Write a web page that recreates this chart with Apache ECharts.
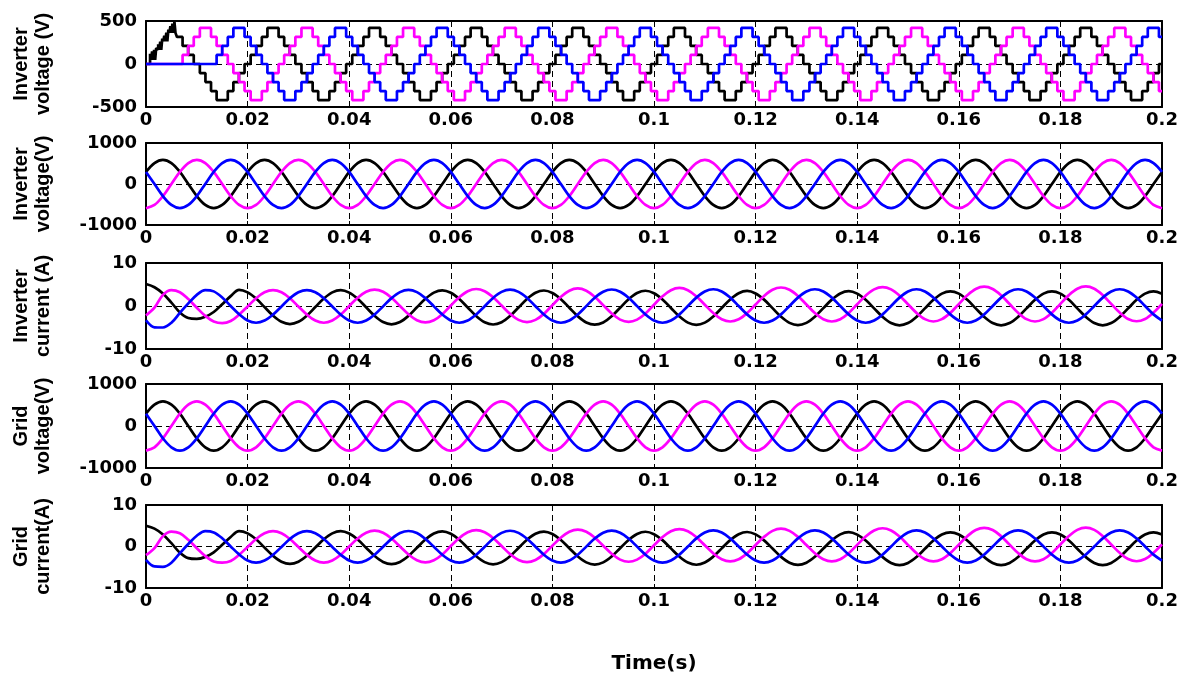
<!DOCTYPE html>
<html><head><meta charset="utf-8">
<script src="https://cdn.jsdelivr.net/npm/echarts@6/dist/echarts.min.js"></script>
<style>html,body{margin:0;padding:0;background:#fff}#c{width:1190px;height:675px}</style>
</head><body><div id="c"></div>
<script>
// ---------- tick labels / titles ----------
const xTickLabels = ['0','0.02','0.04','0.06','0.08','0.1','0.12','0.14','0.16','0.18','0.2'];
const panelTitles = ['Inverter\nvoltage (V)','Inverter\nvoltage(V)','Inverter\ncurrent (A)','Grid\nvoltage(V)','Grid\ncurrent(A)'];
const yLimits = [500, 1000, 10, 1000, 10];
const xTitle = 'Time(s)';

// ---------- sample times (s) ----------
const timeS = [
0,0.00167,0.00333,0.005,0.00667,0.00833,0.01,0.01167,0.01333,0.015,0.01667,0.01833,
0.02,0.02167,0.02333,0.025,0.02667,0.02833,0.03,0.03167,0.03333,0.035,0.03667,0.03833,
0.04,0.04167,0.04333,0.045,0.04667,0.04833,0.05,0.05167,0.05333,0.055,0.05667,0.05833,
0.06,0.06167,0.06333,0.065,0.06667,0.06833,0.07,0.07167,0.07333,0.075,0.07667,0.07833,
0.08,0.08167,0.08333,0.085,0.08667,0.08833,0.09,0.09167,0.09333,0.095,0.09667,0.09833,
0.1,0.10167,0.10333,0.105,0.10667,0.10833,0.11,0.11167,0.11333,0.115,0.11667,0.11833,
0.12,0.12167,0.12333,0.125,0.12667,0.12833,0.13,0.13167,0.13333,0.135,0.13667,0.13833,
0.14,0.14167,0.14333,0.145,0.14667,0.14833,0.15,0.15167,0.15333,0.155,0.15667,0.15833,
0.16,0.16167,0.16333,0.165,0.16667,0.16833,0.17,0.17167,0.17333,0.175,0.17667,0.17833,
0.18,0.18167,0.18333,0.185,0.18667,0.18833,0.19,0.19167,0.19333,0.195,0.19667,0.19833,
0.2];

// staircase switching instants (s)
const stairT = [0,
0.0006,0.0017,0.0028,0.0039,0.005,0.0061,0.0072,0.0083,0.0094,
0.0106,0.0117,0.0128,0.0139,0.015,0.0161,0.0172,0.0183,0.0194,
0.0206,0.0217,0.0228,0.0239,0.025,0.0261,0.0272,0.0283,0.0294,
0.0306,0.0317,0.0328,0.0339,0.035,0.0361,0.0372,0.0383,0.0394,
0.0406,0.0417,0.0428,0.0439,0.045,0.0461,0.0472,0.0483,0.0494,
0.0506,0.0517,0.0528,0.0539,0.055,0.0561,0.0572,0.0583,0.0594,
0.0606,0.0617,0.0628,0.0639,0.065,0.0661,0.0672,0.0683,0.0694,
0.0706,0.0717,0.0728,0.0739,0.075,0.0761,0.0772,0.0783,0.0794,
0.0806,0.0817,0.0828,0.0839,0.085,0.0861,0.0872,0.0883,0.0894,
0.0906,0.0917,0.0928,0.0939,0.095,0.0961,0.0972,0.0983,0.0994,
0.1006,0.1017,0.1028,0.1039,0.105,0.1061,0.1072,0.1083,0.1094,
0.1106,0.1117,0.1128,0.1139,0.115,0.1161,0.1172,0.1183,0.1194,
0.1206,0.1217,0.1228,0.1239,0.125,0.1261,0.1272,0.1283,0.1294,
0.1306,0.1317,0.1328,0.1339,0.135,0.1361,0.1372,0.1383,0.1394,
0.1406,0.1417,0.1428,0.1439,0.145,0.1461,0.1472,0.1483,0.1494,
0.1506,0.1517,0.1528,0.1539,0.155,0.1561,0.1572,0.1583,0.1594,
0.1606,0.1617,0.1628,0.1639,0.165,0.1661,0.1672,0.1683,0.1694,
0.1706,0.1717,0.1728,0.1739,0.175,0.1761,0.1772,0.1783,0.1794,
0.1806,0.1817,0.1828,0.1839,0.185,0.1861,0.1872,0.1883,0.1894,
0.1906,0.1917,0.1928,0.1939,0.195,0.1961,0.1972,0.1983,0.1994];

// ---------- panel 1: multilevel inverter voltage (V) ----------
const stairBlack = [
0,105,210,315,420,420,315,210,105,0,-105,-210,-315,-420,-420,-315,-210,-105,
0,105,210,315,420,420,315,210,105,0,-105,-210,-315,-420,-420,-315,-210,-105,
0,105,210,315,420,420,315,210,105,0,-105,-210,-315,-420,-420,-315,-210,-105,
0,105,210,315,420,420,315,210,105,0,-105,-210,-315,-420,-420,-315,-210,-105,
0,105,210,315,420,420,315,210,105,0,-105,-210,-315,-420,-420,-315,-210,-105,
0,105,210,315,420,420,315,210,105,0,-105,-210,-315,-420,-420,-315,-210,-105,
0,105,210,315,420,420,315,210,105,0,-105,-210,-315,-420,-420,-315,-210,-105,
0,105,210,315,420,420,315,210,105,0,-105,-210,-315,-420,-420,-315,-210,-105,
0,105,210,315,420,420,315,210,105,0,-105,-210,-315,-420,-420,-315,-210,-105,
0,105,210,315,420,420,315,210,105,0,-105,-210,-315,-420,-420,-315,-210,-105,
0];
const stairMagenta = [0,0,0,0,0,0,0,
105,210,315,420,420,315,210,105,0,-105,-210,-315,-420,-420,-315,-210,-105,
0,105,210,315,420,420,315,210,105,0,-105,-210,-315,-420,-420,-315,-210,-105,
0,105,210,315,420,420,315,210,105,0,-105,-210,-315,-420,-420,-315,-210,-105,
0,105,210,315,420,420,315,210,105,0,-105,-210,-315,-420,-420,-315,-210,-105,
0,105,210,315,420,420,315,210,105,0,-105,-210,-315,-420,-420,-315,-210,-105,
0,105,210,315,420,420,315,210,105,0,-105,-210,-315,-420,-420,-315,-210,-105,
0,105,210,315,420,420,315,210,105,0,-105,-210,-315,-420,-420,-315,-210,-105,
0,105,210,315,420,420,315,210,105,0,-105,-210,-315,-420,-420,-315,-210,-105,
0,105,210,315,420,420,315,210,105,0,-105,-210,-315,-420,-420,-315,-210,-105,
0,105,210,315,420,420,315,210,105,0,-105,-210,-315];
const stairBlue = [0,0,0,0,0,0,0,0,0,0,0,0,0,
105,210,315,420,420,315,210,105,0,-105,-210,-315,-420,-420,-315,-210,-105,
0,105,210,315,420,420,315,210,105,0,-105,-210,-315,-420,-420,-315,-210,-105,
0,105,210,315,420,420,315,210,105,0,-105,-210,-315,-420,-420,-315,-210,-105,
0,105,210,315,420,420,315,210,105,0,-105,-210,-315,-420,-420,-315,-210,-105,
0,105,210,315,420,420,315,210,105,0,-105,-210,-315,-420,-420,-315,-210,-105,
0,105,210,315,420,420,315,210,105,0,-105,-210,-315,-420,-420,-315,-210,-105,
0,105,210,315,420,420,315,210,105,0,-105,-210,-315,-420,-420,-315,-210,-105,
0,105,210,315,420,420,315,210,105,0,-105,-210,-315,-420,-420,-315,-210,-105,
0,105,210,315,420,420,315,210,105,0,-105,-210,-315,-420,-420,-315,-210,-105,
0,105,210,315,420,420,315];
// start-up switching of the black phase
const pwmT = [0,0.0008,0.001,0.0012,0.0014,0.0016,0.0018,0.002,0.0022,0.0024,0.0026,0.0028,0.003,0.0032,0.0034,0.0036,0.0038,0.004,0.0042,0.0044,0.0046,0.0048,0.005,0.0052,0.0054,0.0056,0.0058];
const pwmV = [0,120,47,145,47,165,47,185,165,230,165,260,165,295,264,330,264,365,264,400,362,440,362,470,362,490,362];

// ---------- panel 2: inverter voltage (V) ----------
const invVBlack = [
295,511,590,511,295,0,-295,-511,-590,-511,-295,0, 295,511,590,511,295,0,-295,-511,-590,-511,-295,0,
295,511,590,511,295,0,-295,-511,-590,-511,-295,0, 295,511,590,511,295,0,-295,-511,-590,-511,-295,0,
295,511,590,511,295,0,-295,-511,-590,-511,-295,0, 295,511,590,511,295,0,-295,-511,-590,-511,-295,0,
295,511,590,511,295,0,-295,-511,-590,-511,-295,0, 295,511,590,511,295,0,-295,-511,-590,-511,-295,0,
295,511,590,511,295,0,-295,-511,-590,-511,-295,0, 295,511,590,511,295,0,-295,-511,-590,-511,-295,0, 295];
const invVMagenta = [
-590,-511,-295,0,295,511,590,511,295,0,-295,-511, -590,-511,-295,0,295,511,590,511,295,0,-295,-511,
-590,-511,-295,0,295,511,590,511,295,0,-295,-511, -590,-511,-295,0,295,511,590,511,295,0,-295,-511,
-590,-511,-295,0,295,511,590,511,295,0,-295,-511, -590,-511,-295,0,295,511,590,511,295,0,-295,-511,
-590,-511,-295,0,295,511,590,511,295,0,-295,-511, -590,-511,-295,0,295,511,590,511,295,0,-295,-511,
-590,-511,-295,0,295,511,590,511,295,0,-295,-511, -590,-511,-295,0,295,511,590,511,295,0,-295,-511, -590];
const invVBlue = [
295,0,-295,-511,-590,-511,-295,0,295,511,590,511, 295,0,-295,-511,-590,-511,-295,0,295,511,590,511,
295,0,-295,-511,-590,-511,-295,0,295,511,590,511, 295,0,-295,-511,-590,-511,-295,0,295,511,590,511,
295,0,-295,-511,-590,-511,-295,0,295,511,590,511, 295,0,-295,-511,-590,-511,-295,0,295,511,590,511,
295,0,-295,-511,-590,-511,-295,0,295,511,590,511, 295,0,-295,-511,-590,-511,-295,0,295,511,590,511,
295,0,-295,-511,-590,-511,-295,0,295,511,590,511, 295,0,-295,-511,-590,-511,-295,0,295,511,590,511, 295];

// ---------- panel 3: inverter current (A) ----------
const invIBlack = [
5.1,4.35,2.9,0.8,-1.5,-2.8,-3.0,-2.5,-1.4,0.4,2.3,3.75,
3.17,1.73,-0.25,-2.23,-3.67,-4.2,-3.67,-2.23,-0.25,1.73,3.17,3.7,
3.12,1.68,-0.3,-2.28,-3.72,-4.25,-3.72,-2.28,-0.3,1.68,3.12,3.65,
3.07,1.63,-0.35,-2.33,-3.77,-4.3,-3.77,-2.33,-0.35,1.63,3.07,3.6,
3.02,1.58,-0.4,-2.38,-3.82,-4.35,-3.82,-2.38,-0.4,1.58,3.02,3.55,
2.97,1.53,-0.45,-2.43,-3.87,-4.4,-3.87,-2.43,-0.45,1.53,2.97,3.5,
2.92,1.48,-0.5,-2.48,-3.92,-4.45,-3.92,-2.48,-0.5,1.48,2.92,3.45,
2.87,1.43,-0.55,-2.53,-3.97,-4.5,-3.97,-2.53,-0.55,1.43,2.87,3.4,
2.87,1.43,-0.55,-2.53,-3.97,-4.5,-3.97,-2.53,-0.55,1.43,2.87,3.4,
2.87,1.43,-0.55,-2.53,-3.97,-4.5,-3.97,-2.53,-0.55,1.43,2.87,3.4, 2.87];
const invIMagenta = [
-2.2,-0.4,2.6,3.7,3.2,1.6,-0.4,-2.3,-3.6,-4.0,-3.5,-2.0,
-0.1,1.8,3.19,3.7,3.19,1.8,-0.1,-2.0,-3.39,-3.9,-3.39,-2.0,
0,1.92,3.32,3.83,3.32,1.92,0,-1.92,-3.32,-3.83,-3.32,-1.92,
0.1,2.03,3.43,3.95,3.43,2.03,0.1,-1.83,-3.23,-3.75,-3.23,-1.83,
0.2,2.14,3.56,4.08,3.56,2.14,0.2,-1.74,-3.16,-3.68,-3.16,-1.74,
0.3,2.25,3.68,4.2,3.68,2.25,0.3,-1.65,-3.08,-3.6,-3.08,-1.65,
0.35,2.33,3.77,4.3,3.77,2.33,0.35,-1.63,-3.07,-3.6,-3.07,-1.63,
0.4,2.4,3.86,4.4,3.86,2.4,0.4,-1.6,-3.06,-3.6,-3.06,-1.6,
0.45,2.48,3.96,4.5,3.96,2.48,0.45,-1.58,-3.06,-3.6,-3.06,-1.58,
0.5,2.53,4.01,4.55,4.01,2.53,0.5,-1.53,-3.01,-3.55,-3.01,-1.53, 0.5];
const invIBlue = [
-3.3,-4.95,-5.0,-3.9,-1.6,0.6,2.6,3.7,3.4,2.0,0.0,-1.9,
-3.39,-3.9,-3.39,-2.0,-0.1,1.8,3.19,3.7,3.19,1.8,-0.1,-2.0,
-3.39,-3.9,-3.39,-1.99,-0.08,1.83,3.23,3.74,3.23,1.83,-0.08,-1.99,
-3.38,-3.9,-3.38,-1.98,-0.05,1.88,3.28,3.8,3.28,1.88,-0.05,-1.98,
-3.38,-3.9,-3.38,-1.97,-0.03,1.91,3.32,3.84,3.32,1.91,-0.03,-1.97,
-3.38,-3.9,-3.38,-1.95,0,1.95,3.38,3.9,3.38,1.95,0,-1.95,
-3.38,-3.9,-3.38,-1.95,0,1.95,3.38,3.9,3.38,1.95,0,-1.95,
-3.38,-3.9,-3.38,-1.95,0,1.95,3.38,3.9,3.38,1.95,0,-1.95,
-3.38,-3.9,-3.38,-1.95,0,1.95,3.38,3.9,3.38,1.95,0,-1.95,
-3.38,-3.9,-3.38,-1.95,0,1.95,3.38,3.9,3.38,1.95,0,-1.95, -3.38];

// ---------- panel 4: grid voltage (V) ----------
const gridVBlack = [
293,507,585,507,293,0,-293,-507,-585,-507,-293,0, 293,507,585,507,293,0,-293,-507,-585,-507,-293,0,
293,507,585,507,293,0,-293,-507,-585,-507,-293,0, 293,507,585,507,293,0,-293,-507,-585,-507,-293,0,
293,507,585,507,293,0,-293,-507,-585,-507,-293,0, 293,507,585,507,293,0,-293,-507,-585,-507,-293,0,
293,507,585,507,293,0,-293,-507,-585,-507,-293,0, 293,507,585,507,293,0,-293,-507,-585,-507,-293,0,
293,507,585,507,293,0,-293,-507,-585,-507,-293,0, 293,507,585,507,293,0,-293,-507,-585,-507,-293,0, 293];
const gridVMagenta = [
-585,-507,-293,0,293,507,585,507,293,0,-293,-507, -585,-507,-293,0,293,507,585,507,293,0,-293,-507,
-585,-507,-293,0,293,507,585,507,293,0,-293,-507, -585,-507,-293,0,293,507,585,507,293,0,-293,-507,
-585,-507,-293,0,293,507,585,507,293,0,-293,-507, -585,-507,-293,0,293,507,585,507,293,0,-293,-507,
-585,-507,-293,0,293,507,585,507,293,0,-293,-507, -585,-507,-293,0,293,507,585,507,293,0,-293,-507,
-585,-507,-293,0,293,507,585,507,293,0,-293,-507, -585,-507,-293,0,293,507,585,507,293,0,-293,-507, -585];
const gridVBlue = [
293,0,-293,-507,-585,-507,-293,0,293,507,585,507, 293,0,-293,-507,-585,-507,-293,0,293,507,585,507,
293,0,-293,-507,-585,-507,-293,0,293,507,585,507, 293,0,-293,-507,-585,-507,-293,0,293,507,585,507,
293,0,-293,-507,-585,-507,-293,0,293,507,585,507, 293,0,-293,-507,-585,-507,-293,0,293,507,585,507,
293,0,-293,-507,-585,-507,-293,0,293,507,585,507, 293,0,-293,-507,-585,-507,-293,0,293,507,585,507,
293,0,-293,-507,-585,-507,-293,0,293,507,585,507, 293,0,-293,-507,-585,-507,-293,0,293,507,585,507, 293];

// ---------- panel 5: grid current (A) ----------
const gridIBlack = [
5.0,4.3,2.9,0.8,-1.5,-2.8,-3.0,-2.5,-1.4,0.4,2.3,3.7,
3.17,1.73,-0.25,-2.23,-3.67,-4.2,-3.67,-2.23,-0.25,1.73,3.17,3.7,
3.12,1.68,-0.3,-2.28,-3.72,-4.25,-3.72,-2.28,-0.3,1.68,3.12,3.65,
3.07,1.63,-0.35,-2.33,-3.77,-4.3,-3.77,-2.33,-0.35,1.63,3.07,3.6,
3.02,1.58,-0.4,-2.38,-3.82,-4.35,-3.82,-2.38,-0.4,1.58,3.02,3.55,
2.97,1.53,-0.45,-2.43,-3.87,-4.4,-3.87,-2.43,-0.45,1.53,2.97,3.5,
2.92,1.48,-0.5,-2.48,-3.92,-4.45,-3.92,-2.48,-0.5,1.48,2.92,3.45,
2.87,1.43,-0.55,-2.53,-3.97,-4.5,-3.97,-2.53,-0.55,1.43,2.87,3.4,
2.87,1.43,-0.55,-2.53,-3.97,-4.5,-3.97,-2.53,-0.55,1.43,2.87,3.4,
2.87,1.43,-0.55,-2.53,-3.97,-4.5,-3.97,-2.53,-0.55,1.43,2.87,3.4, 2.87];
const gridIMagenta = [
-2.1,-0.4,2.5,3.6,3.2,1.6,-0.4,-2.3,-3.6,-3.9,-3.5,-2.0,
-0.1,1.8,3.19,3.7,3.19,1.8,-0.1,-2.0,-3.39,-3.9,-3.39,-2.0,
0,1.92,3.32,3.83,3.32,1.92,0,-1.92,-3.32,-3.83,-3.32,-1.92,
0.1,2.03,3.43,3.95,3.43,2.03,0.1,-1.83,-3.23,-3.75,-3.23,-1.83,
0.2,2.14,3.56,4.08,3.56,2.14,0.2,-1.74,-3.16,-3.68,-3.16,-1.74,
0.3,2.25,3.68,4.2,3.68,2.25,0.3,-1.65,-3.08,-3.6,-3.08,-1.65,
0.35,2.33,3.77,4.3,3.77,2.33,0.35,-1.63,-3.07,-3.6,-3.07,-1.63,
0.4,2.4,3.86,4.4,3.86,2.4,0.4,-1.6,-3.06,-3.6,-3.06,-1.6,
0.45,2.48,3.96,4.5,3.96,2.48,0.45,-1.58,-3.06,-3.6,-3.06,-1.58,
0.5,2.53,4.01,4.55,4.01,2.53,0.5,-1.53,-3.01,-3.55,-3.01,-1.53, 0.5];
const gridIBlue = [
-3.2,-4.8,-4.9,-3.9,-1.6,0.6,2.6,3.7,3.4,2.0,0.0,-1.9,
-3.39,-3.9,-3.39,-2.0,-0.1,1.8,3.19,3.7,3.19,1.8,-0.1,-2.0,
-3.39,-3.9,-3.39,-1.99,-0.08,1.83,3.23,3.74,3.23,1.83,-0.08,-1.99,
-3.38,-3.9,-3.38,-1.98,-0.05,1.88,3.28,3.8,3.28,1.88,-0.05,-1.98,
-3.38,-3.9,-3.38,-1.97,-0.03,1.91,3.32,3.84,3.32,1.91,-0.03,-1.97,
-3.38,-3.9,-3.38,-1.95,0,1.95,3.38,3.9,3.38,1.95,0,-1.95,
-3.38,-3.9,-3.38,-1.95,0,1.95,3.38,3.9,3.38,1.95,0,-1.95,
-3.38,-3.9,-3.38,-1.95,0,1.95,3.38,3.9,3.38,1.95,0,-1.95,
-3.38,-3.9,-3.38,-1.95,0,1.95,3.38,3.9,3.38,1.95,0,-1.95,
-3.38,-3.9,-3.38,-1.95,0,1.95,3.38,3.9,3.38,1.95,0,-1.95, -3.38];

// ---------- build ----------
const COL = { black: '#000000', magenta: '#ff00ff', blue: '#0000ff' };
const layout = [ {top:21,h:86}, {top:143,h:82}, {top:263,h:86}, {top:384,h:84}, {top:505,h:83} ];
const TICKFONT = { color:'#000', fontFamily:'DejaVu Sans', fontWeight:'bold', fontSize:18 };
const LW = 2.7;

const grids = [], xAxes = [], yAxes = [], series = [];
layout.forEach((L, i) => {
  grids.push({ left:146, width:1016, top:L.top, height:L.h, containLabel:false });
  const lim = yLimits[i];
  xAxes.push({ gridIndex:i, type:'value', position:'bottom', min:0, max:0.2, interval:0.02,
    axisLine:{ show:true, onZero:false, lineStyle:{color:'#000', width:2} },
    axisTick:{ show:true, inside:true, length:4, lineStyle:{color:'#000', width:1} },
    axisLabel:Object.assign({ show:true, margin:4, formatter:v => xTickLabels[Math.round(v/0.02)] }, TICKFONT),
    splitLine:{ show:true, lineStyle:{ color:'#000', width:1, type:[6,4] } },
    name: i === 4 ? xTitle : '', nameLocation:'middle', nameGap:66,
    nameTextStyle:{ color:'#000', fontFamily:'DejaVu Sans', fontWeight:'bold', fontSize:20 } });
  xAxes.push({ gridIndex:i, type:'value', position:'top', min:0, max:0.2, interval:0.02,
    axisLine:{ show:true, onZero:false, lineStyle:{color:'#000', width:2} },
    axisTick:{ show:true, inside:true, length:4, lineStyle:{color:'#000', width:1} },
    axisLabel:{ show:false }, splitLine:{ show:false } });
  yAxes.push({ gridIndex:i, type:'value', position:'left', min:-lim, max:lim, interval:lim,
    axisLine:{ show:true, onZero:false, lineStyle:{color:'#000', width:2} },
    axisTick:{ show:true, inside:true, length:4, lineStyle:{color:'#000', width:1} },
    axisLabel:Object.assign({ show:true, margin:9, formatter:v => String(v) }, TICKFONT),
    splitLine:{ show:true, lineStyle:{ color:'#000', width:1, type:[6,4] } },
    name:panelTitles[i], nameLocation:'middle', nameRotate:90, nameGap:92,
    nameTextStyle:{ color:'#000', fontFamily:'Liberation Sans', fontWeight:'bold', fontSize:20, lineHeight:22 } });
  yAxes.push({ gridIndex:i, type:'value', position:'right', min:-lim, max:lim, interval:lim,
    axisLine:{ show:true, onZero:false, lineStyle:{color:'#000', width:2} },
    axisTick:{ show:true, inside:true, length:4, lineStyle:{color:'#000', width:1} },
    axisLabel:{ show:false }, splitLine:{ show:false } });
});

function lineSeries(panel, name, color, data, extra) {
  return Object.assign({ type:'line', name, xAxisIndex:panel*2, yAxisIndex:panel*2, data,
    showSymbol:false, symbol:'none', animation:false,
    lineStyle:{ color, width:LW }, itemStyle:{ color } }, extra || {});
}
const pairs = (ts, vs) => ts.map((t, k) => [t, vs[k]]);
function stairData(vs, from) {
  const d = pairs(stairT, vs).slice(from);
  d.push([0.2, vs[vs.length - 1]]);
  return d;
}

// panel 1 (step lines)
const blackStair = pairs(pwmT, pwmV).concat(stairData(stairBlack, 6));
series.push(lineSeries(0, 'A', COL.black, blackStair, { step:'end' }));
series.push(lineSeries(0, 'B', COL.magenta, stairData(stairMagenta, 0), { step:'end' }));
series.push(lineSeries(0, 'C', COL.blue, stairData(stairBlue, 0), { step:'end' }));
// panels 2..5 (smooth sampled waves)
const waves = [
  [invVBlack, invVMagenta, invVBlue],
  [invIBlack, invIMagenta, invIBlue],
  [gridVBlack, gridVMagenta, gridVBlue],
  [gridIBlack, gridIMagenta, gridIBlue]
];
waves.forEach((w, j) => {
  const p = j + 1;
  series.push(lineSeries(p, 'A', COL.black, pairs(timeS, w[0]), { smooth:0.35 }));
  series.push(lineSeries(p, 'B', COL.magenta, pairs(timeS, w[1]), { smooth:0.35 }));
  series.push(lineSeries(p, 'C', COL.blue, pairs(timeS, w[2]), { smooth:0.35 }));
});

const chart = echarts.init(document.getElementById('c'), null, { renderer:'canvas' });
chart.setOption({
  backgroundColor:'#ffffff', animation:false,
  grid:grids, xAxis:xAxes, yAxis:yAxes, series
});
</script></body></html>
